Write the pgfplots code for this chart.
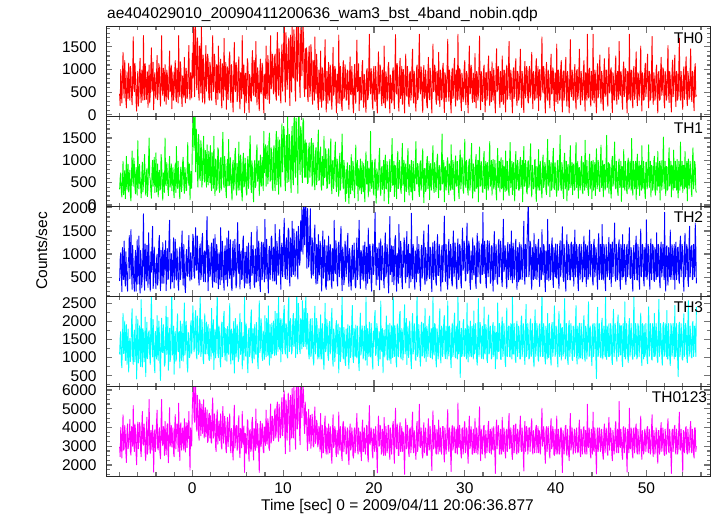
\documentclass[border=0pt]{standalone}
\usepackage{fontspec}
\setmainfont{Liberation Sans}
\usepackage{pgfplots}
\usepackage{pgfplotstable}
\pgfplotsset{compat=1.18}
\newcommand\lcfont{\fontsize{15.5bp}{18bp}\selectfont}
\definecolor{qred}{rgb}{1,0,0}
\definecolor{qgreen}{rgb}{0,1,0}
\definecolor{qblue}{rgb}{0,0,1}
\definecolor{qcyan}{rgb}{0,1,1}
\definecolor{qmag}{rgb}{1,0,1}

\pgfplotstableread{
t a b c d e
-8.000 460 350 420 1090 2970
-7.9375 200 610 900 1550 2440
-7.875 1000 720 1030 1720 4010
-7.8125 510 280 560 890 3350
-7.750 260 180 190 720 2370
-7.6875 880 530 1140 1490 3700
-7.625 1380 980 770 2220 4680
-7.5625 620 230 450 1110 2790
-7.500 370 470 1280 1340 2870
-7.4375 1200 770 620 2010 4120
-7.375 810 140 310 920 3640
-7.3125 320 640 1050 1410 2650
-7.250 150 1090 690 1910 2130
-7.1875 950 330 400 810 3840
-7.125 690 600 200 1180 4190
-7.0625 360 910 800 1790 2860
-7.000 1140 290 930 600 3130
-6.9375 550 530 1400 1280 3490
-6.875 320 780 470 1530 4430
-6.8125 1070 210 980 890 2720
-6.750 900 90 1530 1110 2520
-6.6875 430 700 620 1970 4050
-6.625 220 1210 240 2350 3530
-6.5625 820 600 1190 1030 3000
-6.500 1720 420 760 810 5170
-6.4375 600 1050 410 1600 3210
-6.375 510 890 200 1760 2720
-6.3125 1140 390 860 880 4190
-6.250 830 250 1080 1240 3850
-6.1875 290 840 200 2150 2580
-6.125 80 710 590 410 2010
-6.0625 680 220 1310 1350 3700
-6.000 960 1440 350 2050 4290
-5.9375 190 670 760 850 2860
-5.875 390 360 1390 1000 3280
-5.8125 880 910 450 1880 4260
-5.750 1250 610 160 1420 4050
-5.6875 480 400 1080 750 2790
-5.625 270 160 840 2600 2440
-5.5625 990 640 270 1310 3980
-5.500 740 960 520 740 4860
-5.4375 320 290 1050 1800 3140
-5.375 1750 460 1870 1650 3060
-5.3125 680 840 540 880 4190
-5.250 330 1130 220 1100 3730
-5.1875 1130 530 1220 2120 2650
-5.125 890 220 690 470 2230
-5.0625 340 710 420 1450 3770
-5.000 570 810 1190 1980 4550
-4.9375 950 190 730 970 2580
-4.875 160 400 280 1210 2920
-4.8125 790 990 1460 1690 4120
-4.750 1100 1500 870 1740 5500
-4.6875 260 640 450 1070 3000
-4.625 460 560 200 810 2610
-4.5625 1060 320 1050 1930 3840
-4.500 1480 150 610 2820 3560
-4.4375 510 750 1190 1340 2790
-4.375 680 1000 1600 1020 4130
-4.3125 1160 420 260 2050 3420
-4.250 110 640 420 1560 1620
-4.1875 750 1070 1150 820 3630
-4.125 930 280 800 580 3880
-4.0625 430 640 520 1720 2720
-4.000 360 1170 250 1340 3220
-3.9375 890 290 890 960 4260
-3.875 1310 490 1000 2160 4930
-3.8125 330 920 330 1230 2930
-3.750 540 180 520 920 2800
-3.6875 1130 610 1250 2010 3700
-3.625 1040 780 1400 1660 3990
-3.5625 460 330 620 860 2650
-3.500 190 370 210 370 2330
-3.4375 820 1130 1080 1520 4190
-3.375 1750 980 750 2090 5500
-3.3125 620 360 370 1160 3280
-3.250 430 110 1250 1140 3030
-3.1875 1030 720 730 1910 4050
-3.125 790 610 370 1510 3760
-3.0625 300 280 1080 760 2510
-3.000 1110 1500 680 830 4330
-2.9375 620 530 1290 1720 3350
-2.875 230 430 210 2420 2550
-2.8125 990 950 830 1090 3840
-2.750 880 720 1120 1310 4200
-2.6875 390 360 450 2110 2860
-2.625 340 210 480 650 2120
-2.5625 900 840 1390 1340 3770
-2.500 1410 1090 1730 1810 5060
-2.4375 510 400 680 890 3000
-2.375 580 540 250 1040 3250
-2.3125 1100 920 1010 2070 4120
-2.250 130 320 720 3020 2960
-2.1875 650 650 400 1070 3490
-2.125 950 840 910 1210 3980
-2.0625 320 350 1350 1870 2650
-2.000 500 160 270 540 2440
-1.9375 930 710 830 1490 3910
-1.875 1200 920 1320 1720 4690
-1.8125 390 280 540 900 2860
-1.750 290 1310 440 960 3590
-1.6875 1030 560 1120 1840 4190
-1.625 750 370 830 2210 4060
-1.5625 260 980 340 1170 2720
-1.500 1750 610 220 1160 5300
-1.4375 570 350 980 1720 3350
-1.375 400 140 1150 710 2240
-1.3125 1170 750 450 2010 4120
-1.250 990 850 580 1550 4250
-1.1875 460 300 1100 920 2790
-1.125 180 460 1500 1930 3150
-1.0625 860 950 650 1300 3980
-1.000 690 1070 330 900 3460
-0.9375 390 500 1210 1790 2790
-0.875 1270 260 760 2510 4470
-0.8125 600 840 310 1070 3420
-0.750 260 670 170 1250 2690
-0.6875 1030 320 970 2010 4260
-0.625 880 330 1100 1760 3840
-0.5625 360 810 540 820 2930
-0.500 510 1400 520 600 4230
-0.4375 1100 580 1070 1690 3420
-0.375 1530 440 1400 1510 4850
-0.3125 570 920 580 1000 3070
-0.250 330 120 420 1070 1720
-0.1875 930 600 1030 1870 3980
-0.125 760 750 820 2020 3690
-0.0625 370 370 450 1100 3000
0.000 1360 1290 890 1660 5000
0.0625 810 1880 1430 2430 5840
0.125 2120 2170 1330 1900 6680
0.1875 1100 1220 560 1160 4640
0.250 400 1760 480 1280 4280
0.3125 2060 2120 1140 2080 6560
0.375 1820 740 1570 2300 6200
0.4375 740 1700 650 1100 4160
0.500 550 1480 660 960 3800
0.5625 1700 690 1390 2150 5720
0.625 1440 400 980 1760 5120
0.6875 520 1580 510 1090 3680
0.750 320 1340 330 1160 3320
0.8125 1520 620 1120 2050 5480
0.875 1270 550 1220 2680 5240
0.9375 480 1440 450 1030 3560
1.000 2060 1270 560 1180 4640
1.0625 960 400 1280 2050 5240
1.125 280 620 1450 1720 3680
1.1875 1320 1160 540 950 4400
1.250 1140 1540 410 830 5480
1.3125 450 570 1040 1810 3440
1.375 240 510 1070 2210 3980
1.4375 1040 1220 400 1100 5060
1.500 1530 1000 790 1420 3500
1.5625 520 400 1330 1980 4160
1.625 790 1350 1810 1100 4940
1.6875 1340 620 650 1730 3200
1.750 1220 450 210 1910 3300
1.8125 400 1200 1190 970 4640
1.875 320 960 900 920 4760
1.9375 1160 500 510 1800 3440
2.000 1060 1330 580 1530 4630
2.0625 400 530 1120 960 3240
2.125 320 320 1240 2360 3170
2.1875 1240 1170 450 1270 4930
2.250 1750 850 280 1130 5580
2.3125 510 370 1330 2050 3430
2.375 620 1540 870 670 3590
2.4375 1340 670 400 1450 4730
2.500 1130 210 1420 1790 4310
2.5625 390 1030 760 990 2980
2.625 220 990 380 1240 2720
2.6875 1110 330 1210 2160 4470
2.750 930 500 1040 2740 4940
2.8125 340 1280 540 1140 3110
2.875 1520 1230 250 1000 3810
2.9375 600 440 1030 1870 4340
3.000 480 280 760 1620 3300
3.0625 1060 930 340 900 3950
3.125 1230 1060 1570 740 4730
3.1875 400 330 790 1740 3040
3.250 150 600 440 1980 2850
3.3125 1130 1280 1280 1020 4540
3.375 960 1630 970 1170 5120
3.4375 320 490 450 2080 3170
3.500 1690 390 220 2280 3500
3.5625 710 1090 1050 1160 4600
3.625 550 840 1180 930 4210
3.6875 1160 350 450 1800 2910
3.750 120 160 690 1460 2650
3.8125 760 860 1350 900 4080
3.875 1060 1020 310 1860 4540
3.9375 330 430 910 1240 2980
4.000 740 1470 1500 1090 3560
4.0625 1240 610 610 1930 4280
4.125 1390 430 470 2490 4730
4.1875 400 1060 1310 1070 2980
4.250 270 770 840 820 2650
4.3125 1110 370 310 1790 3950
4.375 890 110 210 1690 3790
4.4375 320 890 1110 930 2720
4.500 60 1000 1280 1340 2260
4.5625 930 330 510 2000 4210
4.625 1600 510 650 570 5190
4.6875 570 1120 1320 1370 2910
4.750 510 1270 960 2080 3240
4.8125 1160 390 270 1020 4020
4.875 1040 220 350 1210 4110
4.9375 290 930 1190 1910 2780
5.000 390 670 1680 1770 2980
5.0625 1030 330 680 890 4210
5.125 1280 1410 580 970 4630
5.1875 440 560 1210 1740 2850
5.250 130 330 250 2220 2390
5.3125 930 1120 970 1090 3950
5.375 820 920 1070 1280 3820
5.4375 360 280 450 1970 2910
5.500 1750 90 480 690 4860
5.5625 640 910 1280 1480 3240
5.625 460 1160 1390 1590 3110
5.6875 1100 400 540 930 4080
5.750 40 440 270 2670 1600
5.8125 780 1050 1040 1310 3690
5.875 920 750 840 1040 3630
5.9375 260 320 370 1930 2590
6.000 610 220 1170 1450 3040
6.0625 1240 920 630 850 4410
6.125 1130 1090 370 580 4340
6.1875 390 370 1240 1740 2780
6.250 50 580 870 1810 2200
6.3125 890 1210 400 1030 3820
6.375 790 1550 250 1160 3890
6.4375 320 530 1040 2050 2720
6.500 300 280 1470 2320 2850
6.5625 1110 990 540 1000 4280
6.625 1420 810 620 850 4540
6.6875 510 330 1190 1800 2910
6.750 430 70 960 1530 2260
6.8125 1200 810 340 960 3950
6.875 1020 1000 280 1910 3760
6.9375 400 390 1110 1170 2780
7.000 1620 440 800 1090 4990
7.0625 710 1120 400 1970 3300
7.125 220 1350 1600 1660 2910
7.1875 1040 530 730 920 4210
7.250 850 670 420 690 3560
7.3125 340 990 1280 1770 2650
7.375 90 210 1010 2570 1600
7.4375 920 810 340 1140 3890
7.500 1230 1120 190 1270 4340
7.5625 460 420 1080 2080 2980
7.625 540 430 1260 1860 3240
7.6875 1140 1070 450 1030 4210
7.750 1040 860 650 920 4080
7.8125 370 320 1250 1730 2720
7.875 40 1650 940 1480 2650
7.9375 850 720 400 950 4020
8.000 900 1020 1750 2160 4020
8.0625 360 1350 760 1250 3040
8.125 1520 420 470 1020 4930
8.1875 600 1000 1320 2080 3430
8.250 340 1330 860 1630 3110
8.3125 1310 470 510 1060 4470
8.375 1130 650 160 2430 4210
8.4375 430 1420 1080 1250 2910
8.500 250 1610 1170 790 2780
8.5625 1020 530 450 1910 4340
8.625 1750 570 690 1380 5250
8.6875 570 1280 1350 990 3170
8.750 650 1120 1390 1950 3560
8.8125 1340 390 580 1100 4600
8.875 1240 320 420 1130 4410
8.9375 460 1210 1150 2010 3300
9.000 520 1330 930 1560 3440
9.0625 1280 500 420 1060 4880
9.125 1340 320 1640 2280 5000
9.1875 450 1340 790 1310 3440
9.250 320 1650 350 1070 3800
9.3125 1400 450 1280 2220 5120
9.375 1820 960 1120 1760 5360
9.4375 620 1520 540 1170 3560
9.500 430 240 580 2820 3260
9.5625 1460 1100 1350 1380 5240
9.625 1160 1460 1530 1230 4640
9.6875 450 500 650 2080 3440
9.750 260 400 240 880 3620
9.8125 1220 1340 1140 1660 5120
9.875 1560 1820 1240 2070 5600
9.9375 520 740 510 1100 3560
10.000 1000 1110 770 1450 4040
10.0625 1580 1760 1420 2220 5600
10.125 2060 1660 1770 2440 5960
10.1875 720 620 580 1240 3680
10.250 280 320 470 1100 2600
10.3125 1820 1340 1210 1940 5480
10.375 1380 1560 1350 1880 5060
10.4375 560 500 450 1070 3320
10.500 840 2000 690 990 4400
10.5625 1520 860 1560 2360 5840
10.625 1700 520 1520 2680 5480
10.6875 620 1580 480 1170 3560
10.750 200 1380 310 1340 2720
10.8125 1760 740 1350 2080 5720
10.875 1280 280 1140 1720 4760
10.9375 500 1520 510 1100 3440
11.000 1940 1760 1710 1210 6080
11.0625 860 620 820 2010 4280
11.125 810 450 560 2220 3440
11.1875 1880 1820 1540 1310 6200
11.250 1520 2060 1190 1600 5240
11.3125 620 740 520 2080 3560
11.375 300 620 760 1000 2840
11.4375 1700 1940 1360 1730 5960
11.500 2120 1580 1490 2850 6560
11.5625 740 860 580 1100 3920
11.625 1100 260 460 1380 4400
11.6875 2060 1940 1600 2500 6440
11.750 1640 2130 1320 1970 5840
11.8125 690 980 760 1240 3680
11.875 380 680 880 1110 3080
11.9375 1820 1760 1720 2080 6320
12.000 2080 1620 1060 1800 6620
12.0625 860 800 1960 1240 4520
12.125 1200 500 1640 2570 5180
12.1875 2000 1940 1000 1520 6440
12.250 1700 1880 2260 1300 5720
12.3125 620 860 1600 2360 4160
12.375 400 620 1200 2010 3680
12.4375 1460 1460 2140 1310 5360
12.500 570 620 2412 2930 4190
12.5625 1480 1390 1210 1520 4840
12.625 1340 1180 690 1230 3540
12.6875 430 480 1980 2220 2760
12.750 290 510 1560 1760 4450
12.8125 1270 1250 720 1100 4970
12.875 1520 1390 900 960 3150
12.9375 400 620 1490 1870 4060
13.000 540 870 1980 2070 4650
13.0625 1550 1320 650 1030 2890
13.125 1300 1490 480 1160 3480
13.1875 460 420 1350 2080 4710
13.250 230 480 1220 1620 4320
13.3125 1200 1390 540 960 3020
13.375 1040 1110 750 790 2960
13.4375 320 540 1420 1910 4520
13.500 1720 340 1630 2420 5100
13.5625 640 1180 540 1100 3150
13.625 460 1290 350 1390 3350
13.6875 1340 450 1210 2080 4390
13.750 970 660 1010 1840 4190
13.8125 330 1250 370 960 2960
13.875 110 1680 1420 1020 3150
13.9375 990 550 680 1800 4060
14.000 780 570 550 1480 3840
14.0625 290 1120 1280 960 2720
14.125 1410 1300 1180 2180 4750
14.1875 510 420 540 1240 3280
14.250 160 330 200 960 2370
14.3125 1040 1090 1070 1940 4120
14.375 900 950 1500 1690 3630
14.4375 320 440 480 930 2650
14.500 460 1540 660 670 3070
14.5625 1130 610 1310 1730 4190
14.625 1660 640 1030 2500 4610
14.6875 510 1260 300 1160 2860
14.750 60 1070 240 1280 2580
14.8125 960 370 1180 2050 3980
14.875 650 390 860 1810 3490
14.9375 250 1060 420 1030 2580
15.000 1160 1260 1390 920 4190
15.0625 610 470 730 1870 3280
15.125 320 500 440 2000 2650
15.1875 1100 1140 1210 1100 4050
15.250 930 1480 1070 1320 3630
15.3125 290 420 350 2080 2440
15.375 120 250 260 2360 2090
15.4375 920 980 1120 1020 3840
15.500 1490 1000 870 760 4680
15.5625 430 370 420 1790 2930
15.625 530 610 1730 1650 3070
15.6875 1070 1140 680 890 4050
15.750 1000 1410 580 1160 3840
15.8125 370 530 1290 1880 2650
15.875 40 300 1050 2020 2440
15.9375 900 1030 450 1100 3840
16.000 820 910 310 1530 3560
16.0625 260 420 1150 1930 2580
16.125 1760 190 1260 580 4820
16.1875 600 980 510 1520 3140
16.250 250 1160 660 1830 2790
16.3125 1070 330 1310 890 4050
16.375 690 560 1600 1110 3350
16.4375 200 1090 550 2040 2510
16.500 90 1590 210 2680 2230
16.5625 960 580 1150 1240 4120
16.625 1200 360 960 960 4330
16.6875 360 1000 340 1830 2720
16.750 410 840 470 1590 3140
16.8125 1110 330 1280 900 4050
16.875 930 80 1140 780 3770
16.9375 320 790 510 1790 2580
17.000 340 260 730 1040 2650
17.0625 990 950 1240 1490 3980
17.125 960 770 1450 1910 3840
17.1875 330 300 450 900 2440
17.250 120 30 300 690 2020
17.3125 850 890 1120 1870 3700
17.375 1280 600 930 1650 4190
17.4375 460 250 400 1000 2790
17.500 440 1130 220 1240 2930
17.5625 1070 500 1040 2050 3980
17.625 760 330 1190 2440 3560
17.6875 230 980 450 1020 2510
17.750 40 810 540 860 2370
17.8125 820 330 1240 1800 3840
17.875 1110 160 860 1580 3980
17.9375 400 860 310 1030 2650
18.000 250 1340 270 1900 3210
18.0625 1020 470 1070 1070 4120
18.125 1650 430 1350 990 4750
18.1875 510 1000 450 1870 2860
18.250 600 90 630 1420 2580
18.3125 1130 810 1280 860 3980
18.375 90 700 1730 640 3420
18.4375 820 330 650 1660 2720
18.500 830 1030 260 2230 3770
18.5625 320 530 1080 1070 2650
18.625 340 250 1040 1210 2230
18.6875 1060 980 450 1880 3910
18.750 1200 570 720 1730 4400
18.8125 400 300 1180 960 2720
18.875 160 930 420 1090 2720
18.9375 890 330 1030 1870 3980
19.000 680 70 1260 1530 3350
19.0625 290 860 580 930 2580
19.125 50 1190 240 2670 3070
19.1875 960 470 1150 1240 4120
19.250 1020 470 830 790 4050
19.3125 330 980 370 1800 2510
19.375 390 180 1560 1380 2160
19.4375 1130 810 870 1030 4120
19.500 1780 750 470 1980 5170
19.5625 570 300 1210 1230 3070
19.625 460 1650 970 1020 3280
19.6875 1020 530 400 1940 3980
19.750 860 370 200 1600 3700
19.8125 290 1000 1010 930 2650
19.875 120 670 1220 680 2370
19.9375 950 280 560 1730 3910
20.000 1070 220 650 1300 3910
20.0625 360 920 1280 2080 2720
20.125 290 1030 1900 2300 2930
20.1875 1070 390 790 1060 4050
20.250 750 40 330 1130 3420
20.3125 260 810 1140 1940 2580
20.375 40 720 1100 1790 1580
20.4375 930 330 450 1030 3770
20.500 1390 430 720 780 4610
20.5625 460 1070 1240 1720 3000
20.625 540 1270 230 1530 3070
20.6875 1100 420 930 960 4120
20.750 930 210 1330 2560 3840
20.8125 320 810 440 1240 2580
20.875 200 860 700 1170 2650
20.9375 990 350 1180 1800 3910
21.000 600 540 930 580 3280
21.0625 260 1000 450 1520 2510
21.125 1520 90 270 1760 4540
21.1875 510 780 1100 1020 3140
21.250 150 1120 1460 1320 2510
21.3125 950 370 510 1720 4050
21.375 820 360 610 2150 3630
21.4375 300 980 1210 970 2650
21.500 370 810 1040 930 2860
21.5625 1060 330 400 1900 4120
21.625 1160 30 160 1450 4120
21.6875 400 840 1120 930 2720
21.750 40 1020 1810 1940 2300
21.8125 880 300 560 1100 3980
21.875 780 420 760 830 3490
21.9375 260 980 1180 1880 2580
22.000 330 1490 400 1620 3140
22.0625 960 440 1040 1000 4120
22.125 1040 500 1170 2750 4330
22.1875 370 980 340 1240 2720
22.250 130 190 560 1030 2090
22.3125 990 890 1320 1880 3980
22.375 1770 860 1400 1520 5030
22.4375 510 330 510 890 3000
22.500 460 140 200 740 2860
22.5625 1130 980 1010 1930 4190
22.625 850 1200 870 1840 3770
22.6875 260 370 370 1020 2510
22.750 80 460 1640 1240 2510
22.8125 950 1000 820 2150 3980
22.875 1250 750 490 2280 4260
22.9375 360 360 1280 1030 2720
23.000 570 260 1110 960 3210
23.0625 1070 930 450 1800 4050
23.125 230 1380 250 1700 2720
23.1875 880 440 1070 930 3770
23.250 1000 560 720 1160 3700
23.3125 330 1000 1350 1940 2580
23.375 40 70 1250 2460 1500
23.4375 850 790 510 1100 3630
23.500 1340 920 380 1390 4470
23.5625 460 300 1120 2080 2860
23.625 410 390 1490 810 3000
23.6875 1070 980 510 1590 4120
23.750 790 1270 680 1870 3630
23.8125 260 390 1210 1000 2650
23.875 180 220 270 1210 2440
23.9375 920 910 1010 2010 3910
24.000 960 680 960 1560 3980
24.0625 320 300 400 930 2650
24.125 470 1000 1880 690 3070
24.1875 1100 370 790 1800 4120
24.250 1450 110 470 2220 4820
24.3125 430 980 1210 1100 2930
24.375 260 780 1080 1270 2650
24.4375 960 330 450 1940 3840
24.500 650 320 240 1740 3350
24.5625 260 1000 1070 960 2720
24.625 80 1420 840 920 2300
24.6875 1020 470 400 1830 3980
24.750 1100 470 1380 2820 4330
24.8125 330 930 620 1030 2720
24.875 390 840 580 1160 3140
24.9375 1130 330 1210 1910 4050
25.000 1780 190 890 1510 5240
25.0625 570 920 400 1000 3000
25.125 460 990 210 760 2930
25.1875 1060 330 1070 1870 3980
25.250 900 420 1190 1980 3560
25.3125 300 1000 480 1040 2580
25.375 50 1260 660 1090 2370
25.4375 960 390 1290 1940 3910
25.500 1090 50 1500 1620 4260
25.5625 360 810 510 990 2650
25.625 410 820 340 2360 3140
25.6875 990 300 1140 1240 3980
25.750 740 360 980 890 3350
25.8125 230 980 420 1870 2510
25.875 150 1090 550 1730 2510
25.9375 920 370 1210 1030 3840
26.000 1270 580 1630 1250 4470
26.0625 400 980 540 2010 2790
26.125 330 120 470 2150 2860
26.1875 1030 810 1150 1030 4050
26.250 820 930 1100 1000 3490
26.3125 340 330 450 1800 2580
26.375 40 470 190 1580 1700
26.4375 920 1000 1070 960 3910
26.500 1560 1330 1250 2680 4890
26.5625 510 390 450 1170 2860
26.625 550 280 620 1070 3000
26.6875 1100 950 1280 1940 4120
26.750 990 780 940 1900 3770
26.8125 360 300 400 960 2650
26.875 230 400 330 740 2580
26.9375 960 1000 1110 1800 3910
27.000 690 1140 1420 1650 3630
27.0625 320 420 540 960 2580
27.125 1380 160 540 1160 4400
27.1875 570 890 1210 1940 3140
27.250 180 810 1010 2350 2720
27.3125 990 330 450 1030 3980
27.375 900 350 200 850 3280
27.4375 330 950 1040 1870 2580
27.500 370 1590 1190 1800 3420
27.5625 1030 470 400 1030 4050
27.625 1140 570 730 1280 4050
27.6875 400 1000 1280 2010 2720
27.750 50 70 1820 2160 2160
27.8125 930 810 790 1100 3980
27.875 850 860 410 970 3490
27.9375 290 330 1210 1870 2580
28.000 500 470 970 1440 3070
28.0625 1070 980 370 960 4120
28.125 1670 1060 240 2560 4960
28.1875 570 370 1150 1240 2930
28.250 300 230 1320 1040 2720
28.3125 990 920 480 1870 3980
28.375 810 670 610 1720 3630
28.4375 260 330 1210 990 2650
28.500 40 1350 1100 720 1650
28.5625 880 530 400 1730 3840
28.625 1030 350 310 1950 4120
28.6875 360 1000 1180 1030 2790
28.750 440 890 1500 1170 3000
28.8125 1060 300 510 1940 4050
28.875 1250 90 660 2230 3910
28.9375 400 950 1240 1030 2650
29.000 190 1100 980 990 2650
29.0625 990 420 400 1870 3910
29.125 880 430 250 1600 3560
29.1875 320 980 1140 960 2580
29.250 1780 720 1330 2780 5310
29.3125 600 330 450 1100 3000
29.375 340 140 510 1240 2930
29.4375 1020 1000 1210 2010 4120
29.500 970 1230 1150 450 3420
29.5625 320 360 400 1450 2650
29.625 90 530 270 1810 2370
29.6875 920 1060 1120 1030 3910
29.750 760 980 1560 1140 3980
29.8125 290 330 650 1940 2580
29.875 400 260 720 2050 2860
29.9375 1020 890 1280 1030 4050
30.000 1200 1470 1030 1060 4330
30.0625 370 470 420 1800 2650
30.125 220 390 440 1730 2790
30.1875 960 1000 1210 960 3980
30.250 890 740 1670 2510 3840
30.3125 320 350 580 1170 2650
30.375 40 220 660 880 2090
30.4375 900 950 1280 1870 3770
30.500 1520 1030 1180 1490 4610
30.5625 460 330 400 1030 2860
30.625 480 490 240 2010 3070
30.6875 1100 1000 1070 1170 4050
30.750 1000 1380 870 1020 3700
30.8125 360 420 450 1870 2580
30.875 270 150 1350 1620 2580
30.9375 920 920 700 960 3910
31.000 680 840 550 2290 3280
31.0625 290 330 1180 1100 2650
31.125 1350 300 1100 1140 4470
31.1875 510 980 400 1940 2930
31.250 150 1130 260 1560 2650
31.3125 960 370 1070 960 3980
31.375 880 580 1450 790 3560
31.4375 320 1000 510 1800 2580
31.500 430 70 760 2630 3000
31.5625 1070 810 1280 1030 4120
31.625 1740 1300 1000 1370 5100
31.6875 570 420 400 1970 3000
31.750 110 430 370 1800 2230
31.8125 960 980 1140 1030 3910
31.875 780 770 1220 970 3490
31.9375 290 300 560 1870 2580
32.000 370 280 1900 1600 3140
32.0625 990 1000 790 960 4050
32.125 1100 1200 580 2400 4120
32.1875 400 370 1280 1170 2720
32.250 60 570 1030 1100 2370
32.3125 930 980 400 1910 3840
32.375 930 120 270 1760 3420
32.4375 320 840 1140 960 2650
32.500 460 950 1290 860 3070
32.5625 1060 330 510 2010 4050
32.625 1300 390 690 2180 4330
32.6875 430 1000 1280 1100 2720
32.750 200 1420 1050 1210 2650
32.8125 960 420 370 1870 3910
32.875 820 510 420 1580 3630
32.9375 290 1000 1180 960 2580
33.000 1170 220 1180 1040 3980
33.0625 510 890 510 1870 3000
33.125 320 1020 200 1970 2790
33.1875 1020 360 1070 1030 4050
33.250 750 440 1490 1300 3350
33.3125 290 1000 450 1870 2580
33.375 40 770 610 690 1550
33.4375 960 300 1210 1660 3840
33.500 1460 110 960 1700 4400
33.5625 510 890 400 960 2860
33.625 570 1270 350 2510 3490
33.6875 1070 390 1210 1170 4120
33.750 930 580 1320 1180 3770
33.8125 320 980 510 1940 2580
33.875 160 290 800 1810 2580
33.9375 960 920 1280 960 3910
34.000 670 1060 1120 950 3280
34.0625 290 360 450 1870 2580
34.125 1300 470 300 2120 4540
34.1875 510 1000 1210 1030 2860
34.250 230 110 1750 1210 2720
34.3125 990 860 620 1940 3980
34.375 970 820 690 1600 3630
34.4375 320 300 1180 890 2650
34.500 60 1210 1030 750 2370
34.5625 930 420 450 1800 3840
34.625 1100 320 260 2370 3910
34.6875 340 980 1140 1030 2720
34.750 440 750 1250 1370 3140
34.8125 1070 330 450 1870 4120
34.875 1620 210 620 1870 4750
34.9375 510 980 1210 1030 2860
35.000 340 1400 940 1020 2930
35.0625 990 390 450 1940 3980
35.125 820 570 1500 1740 3560
35.1875 320 980 680 960 2580
35.250 40 230 380 2720 2300
35.3125 930 890 1240 1100 3840
35.375 1040 950 1070 1100 4120
35.4375 360 330 450 1940 2650
35.500 500 90 590 1530 3140
35.5625 1070 980 1210 960 4120
35.625 1240 1200 1320 860 4190
35.6875 400 360 540 1870 2650
35.750 200 470 240 2010 2580
35.8125 960 1000 1140 1030 3910
35.875 890 840 870 1280 3700
35.9375 320 330 400 1870 2650
36.000 430 330 1250 1660 3210
36.0625 990 950 450 960 4050
36.125 1450 1070 480 960 4610
36.1875 510 370 1210 1940 2860
36.250 160 640 1100 2150 2720
36.3125 960 1000 450 1030 3980
36.375 810 70 630 1200 3420
36.4375 320 840 1180 1940 2650
36.500 50 1310 1710 1770 1680
36.5625 930 420 510 1030 3840
36.625 1180 430 350 810 4330
36.6875 370 1000 1210 1870 2720
36.750 550 840 1000 2470 3280
36.8125 1070 300 510 1030 4050
36.875 950 250 1380 1250 3770
36.9375 320 950 1700 1940 2580
37.000 260 990 2454 1600 3000
37.0625 960 390 510 960 3980
37.125 1070 500 690 990 3980
37.1875 370 1000 1280 1940 2720
37.250 460 1370 1210 2070 3350
37.3125 1020 420 450 1030 4050
37.375 1380 180 240 1110 4470
37.4375 460 890 1140 1940 2790
37.500 130 700 910 1560 2580
37.5625 960 360 450 960 3840
37.625 830 390 1450 740 3490
37.6875 320 1000 540 1870 2650
37.750 370 1020 470 2320 3070
37.8125 990 360 1210 1030 3980
37.875 1240 80 1110 1310 4120
37.9375 370 860 450 1940 2650
38.000 600 780 660 1760 3210
38.0625 1070 330 1210 960 4050
38.125 90 1240 1320 900 2650
38.1875 880 440 510 1870 3840
38.250 1000 330 300 1930 3700
38.3125 320 980 1140 1030 2580
38.375 400 700 1000 1170 3070
38.4375 960 330 450 1940 3980
38.500 1720 160 1530 2890 5030
38.5625 570 950 650 1030 3000
38.625 480 1120 550 1040 3280
38.6875 1070 390 1210 1940 4050
38.750 890 490 1140 1660 3560
38.8125 340 950 450 1030 2650
38.875 40 860 190 820 2090
38.9375 900 330 1070 1870 3840
39.000 1160 230 980 1530 4050
39.0625 400 950 450 960 2720
39.125 320 1470 1750 2220 3140
39.1875 990 420 790 1030 4050
39.250 830 580 420 1000 3420
39.3125 320 1000 1210 1940 2580
39.375 150 180 1100 1650 2370
39.4375 960 810 450 1030 3910
39.500 1340 950 620 790 4470
39.5625 460 330 1210 1870 2860
39.625 480 420 1350 1970 3000
39.6875 1040 1000 510 1030 4050
39.750 960 1270 280 1250 3770
39.8125 330 390 1140 1940 2580
39.875 80 350 910 2430 2510
39.9375 930 950 510 1030 3910
40.000 720 740 1220 1110 3280
40.0625 290 330 510 1870 2580
40.125 1560 190 480 1720 4610
40.1875 510 980 1210 1030 2860
40.250 250 1000 970 740 2580
40.3125 990 330 450 1870 3910
40.375 890 470 250 2280 3420
40.4375 320 1000 1140 1030 2580
40.500 370 1560 1290 1370 2930
40.5625 1020 420 510 1940 3980
40.625 1200 320 760 930 3980
40.6875 370 950 1210 1800 2580
40.750 60 820 1590 1830 1600
40.8125 930 330 540 1030 3840
40.875 970 140 410 1160 3490
40.9375 320 980 1210 1940 2580
41.000 500 1160 970 2630 3140
41.0625 1020 360 450 960 4050
41.125 1270 440 200 1030 4120
41.1875 430 980 1140 1940 2650
41.250 190 90 1420 1560 2510
41.3125 960 810 450 960 3910
41.375 790 910 630 810 3280
41.4375 320 330 1210 1870 2580
41.500 40 400 1070 2020 2230
41.5625 930 980 450 1030 3840
41.625 1660 1330 440 1270 4750
41.6875 510 390 1210 1940 2790
41.750 400 560 1260 1660 3000
41.8125 990 950 510 960 3980
41.875 880 230 750 920 3490
41.9375 320 860 1210 1870 2580
42.000 320 920 310 1830 2860
42.0625 960 330 1070 1030 3910
42.125 1110 360 1520 1140 3840
42.1875 370 980 510 1940 2650
42.250 120 1400 690 2440 3000
42.3125 960 390 1210 1030 3980
42.375 1000 580 1080 820 3350
42.4375 340 980 450 1870 2650
42.500 480 150 210 1510 2720
42.5625 990 810 1140 960 3980
42.625 1450 840 1210 1950 4400
42.6875 430 330 450 1030 2720
42.750 220 430 680 990 2440
42.8125 960 980 1210 1940 3910
42.875 780 1090 1030 1620 3630
42.9375 320 330 400 960 2580
43.000 440 250 470 1160 3070
43.0625 990 950 1140 1940 3980
43.125 1200 750 1390 2160 4050
43.1875 400 330 510 1030 2720
43.250 80 1450 840 900 2580
43.3125 930 530 1210 1870 3840
43.375 850 390 300 1770 3210
43.4375 320 1000 1070 960 2580
43.500 1780 670 1180 1210 5240
43.5625 570 330 450 1940 3070
43.625 370 210 550 2540 2930
43.6875 990 950 1210 1030 3980
43.750 1030 1140 1520 1060 3700
43.8125 340 360 510 1870 2650
43.875 190 500 770 1580 2370
43.9375 960 980 1210 1030 3910
44.000 710 140 1110 780 3210
44.0625 320 860 450 1870 2580
44.125 1780 1000 330 1940 4820
44.1875 510 330 1210 1030 2860
44.250 260 560 1320 1310 2720
44.3125 990 950 510 1940 3980
44.375 900 210 680 1730 3350
44.4375 320 860 1140 960 2580
44.500 40 1260 980 420 1520
44.5625 930 360 450 1800 3840
44.625 1130 460 240 2390 3980
44.6875 370 1000 1210 1030 2720
44.750 500 810 1450 1180 3070
44.8125 990 330 450 1940 3980
44.875 1320 300 620 1600 3840
44.9375 460 980 1210 1030 2720
45.000 250 1340 930 990 2860
45.0625 960 390 450 1940 3910
45.125 860 500 1640 2090 3490
45.1875 320 1000 650 960 2580
45.250 90 180 440 1160 2300
45.3125 930 890 1210 1870 3840
45.375 1240 910 1120 1580 4190
45.4375 400 330 450 1030 2650
45.500 460 390 210 2840 3070
45.5625 990 980 1210 1030 3980
45.625 970 1560 1030 950 3770
45.6875 340 390 510 1870 2650
45.750 190 570 660 1480 2510
45.8125 960 950 1140 1030 3910
45.875 1490 260 1360 1940 4540
45.9375 480 920 450 1030 2790
46.000 540 840 750 1070 3280
46.0625 990 330 1210 1940 3980
46.125 1040 150 300 1720 3560
46.1875 340 980 1070 960 2580
46.250 50 1090 1260 810 2230
46.3125 930 420 510 1870 3840
46.375 810 510 860 2330 3420
46.4375 320 1000 1210 1030 2580
46.500 340 1410 1670 1270 3000
46.5625 990 420 510 1940 3980
46.625 1300 360 410 1670 4330
46.6875 430 980 1210 1030 2720
46.750 230 720 1070 900 2650
46.8125 960 330 450 1870 3910
46.875 930 210 610 2180 3630
46.9375 340 950 1210 1030 2650
47.000 1620 1030 1310 1410 5390
47.0625 570 390 510 1940 3140
47.125 430 440 240 1070 2930
47.1875 960 980 1210 1870 3910
47.250 850 80 930 1880 3350
47.3125 320 860 450 960 2580
47.375 120 850 1420 750 2300
47.4375 990 390 510 1940 3980
47.500 1170 1240 540 1630 4050
47.5625 400 420 1210 1030 2650
47.625 580 330 1080 2540 3210
47.6875 1020 980 450 960 3980
47.750 960 700 340 1160 3630
47.8125 340 330 1140 1940 2580
47.875 40 250 1210 1530 1620
47.9375 960 950 510 1030 3910
48.000 790 1050 770 860 3350
48.0625 340 360 1210 1870 2650
48.125 1780 420 1570 2080 5030
48.1875 570 980 510 1030 2930
48.250 320 720 470 1240 2860
48.3125 990 330 1140 1940 3980
48.375 970 1490 1000 1620 3770
48.4375 340 440 450 1030 2650
48.500 150 220 200 950 2370
48.5625 960 980 1070 1800 3910
48.625 1070 890 1190 2710 3980
48.6875 340 360 450 1030 2650
48.750 460 440 690 1110 3000
48.8125 1020 980 1210 1940 3980
48.875 1390 120 1390 1730 4190
48.9375 430 860 450 960 2720
49.000 200 1140 440 1020 2580
49.0625 930 360 1210 1940 3910
49.125 880 530 1010 1840 3420
49.1875 320 980 450 1030 2580
49.250 500 210 240 1280 2930
49.3125 960 860 1140 1870 3910
49.375 1520 890 1540 2230 4610
49.4375 460 330 510 1030 2720
49.500 80 1330 760 780 2300
49.5625 930 420 1210 1940 3840
49.625 820 360 1120 1510 3280
49.6875 320 980 450 960 2580
49.750 340 670 310 1910 2790
49.8125 960 330 1140 1030 3910
49.875 1140 140 970 1110 3700
49.9375 400 950 510 1940 2720
50.000 610 960 1740 1450 3210
50.0625 1020 360 450 960 3980
50.125 1340 430 620 830 4050
50.1875 430 980 1210 1870 2720
50.250 150 1350 1070 2400 2650
50.3125 960 390 510 1030 3910
50.375 900 610 240 1340 3350
50.4375 320 980 1140 1940 2580
50.500 400 180 1330 1740 2860
50.5625 990 890 450 960 3980
50.625 1730 860 720 930 4680
50.6875 510 330 1210 1940 2860
50.750 230 420 1150 1580 2440
50.8125 930 980 450 1030 3840
50.875 780 1090 410 2220 3490
50.9375 320 330 1140 1030 2580
51.000 460 220 930 1130 3000
51.0625 990 950 450 1940 3980
51.125 1100 750 1460 1690 3700
51.1875 340 330 510 960 2580
51.250 40 1200 520 860 2090
51.3125 930 420 1210 1870 3840
51.375 960 430 1110 2610 3840
51.4375 320 980 450 1030 2580
51.500 340 110 270 1250 2790
51.5625 960 860 1140 1940 3910
51.625 1270 990 1260 1580 4260
51.6875 430 330 510 1030 2720
51.750 550 510 690 790 3070
51.8125 1040 950 1210 1870 3980
51.875 990 1520 960 1970 3560
51.9375 320 360 450 1030 2580
52.000 150 610 1900 1090 2510
52.0625 960 980 510 1940 3910
52.125 850 210 200 1720 3420
52.1875 320 860 1140 1030 2580
52.250 400 860 1180 2300 3070
52.3125 990 330 510 960 3980
52.375 1530 370 330 970 4470
52.4375 460 980 1140 1940 2720
52.500 270 1280 870 1520 2650
52.5625 960 420 510 1030 3910
52.625 810 580 1520 780 3280
52.6875 320 980 450 1940 2580
52.750 60 180 580 1860 1550
52.8125 930 890 1210 1030 3840
52.875 1210 840 1080 1210 3910
52.9375 400 330 450 1940 2720
53.000 570 1230 750 1650 3210
53.0625 990 390 1210 960 3980
53.125 1320 390 240 2440 4120
53.1875 430 980 1070 1030 2720
53.250 180 710 1260 1040 2580
53.3125 960 330 450 1940 3910
53.375 890 1020 630 1450 3490
53.4375 320 360 1140 960 2580
53.500 440 160 1150 470 2930
53.5625 990 980 450 1870 3980
53.625 1690 820 370 1980 4820
53.6875 510 330 1210 1030 2860
53.750 320 1410 1390 1240 2790
53.8125 960 420 510 1940 3910
53.875 760 490 830 1690 3420
53.9375 320 980 1210 960 2580
54.000 120 280 1010 930 1600
54.0625 930 890 450 1870 3840
54.125 1060 880 200 2210 3770
54.1875 340 360 1140 1030 2650
54.250 550 1200 1450 1340 3140
54.3125 1020 420 510 1940 3980
54.375 1280 390 700 1800 4050
54.4375 400 980 1210 1030 2720
54.500 200 90 1110 860 2580
54.5625 960 920 450 1940 3910
54.625 830 1030 300 2570 3350
54.6875 340 360 1210 1030 2650
54.750 400 500 1600 1160 2930
54.8125 990 980 510 1870 3980
54.875 1460 770 800 1600 4330
54.9375 430 330 1140 1030 2720
55.000 290 190 1190 990 2650
55.0625 960 950 450 1940 3910
55.125 930 1280 470 2000 3490
55.1875 320 360 1210 1030 2580
55.250 90 530 980 1240 2370
55.3125 990 980 510 1870 3980
55.375 1130 880 1670 1560 3980
55.4375 400 330 1140 1030 2720
55.500 440 280 370 2400 3000
}\lc

\pgfplotsset{
  panel/.style={
    scale only axis, width=604bp, height=89.8bp, anchor=south west,
    xmin=-9.5, xmax=57,
    xtick={0,10,20,30,40,50},
    minor xtick={-8,-6,...,56},
    tick align=inside,
    xtick pos=both, ytick pos=both,
    yticklabel pos=left,
    major tick length=6bp, minor tick length=3.5bp,
    tick style={black!55, line width=1.2bp},
    axis line style={black!85, line width=1bp},
    tick label style={font=\lcfont, text=black},
    yticklabel style={anchor=east, inner sep=0pt, xshift=-9.3bp},
    /pgf/number format/assume math mode=true,
    /pgf/number format/1000 sep={},
    scaled ticks=false,
    axis on top=true,
    every axis plot/.append style={line width=0.9bp, line join=round, mark=none},
  },
  nolab/.style={xticklabels={}},
}

\begin{document}
\begin{tikzpicture}[font=\lcfont]
\path[use as bounding box] (0,0) rectangle (717bp,516bp);

\begin{axis}[panel, nolab, at={(106bp,399.2bp)},
  ymin=-45, ymax=1940, ytick={0,500,1000,1500}, minor ytick={0,100,...,1900}]
  \addplot[qred] table[x=t,y=a]{\lc};
  \node[anchor=base east, inner sep=0pt] at (rel axis cs:0.9889,0.8185) {TH0};
\end{axis}

\begin{axis}[panel, nolab, at={(106bp,309.4bp)},
  ymin=-36, ymax=1975, ytick={0,500,1000,1500}, minor ytick={0,100,...,1900}]
  \addplot[qgreen] table[x=t,y=b]{\lc};
  \node[anchor=base east, inner sep=0pt] at (rel axis cs:0.9889,0.8185) {TH1};
\end{axis}

\begin{axis}[panel, nolab, at={(106bp,219.6bp)},
  ymin=88, ymax=2024, ytick={500,1000,1500,2000}, minor ytick={100,200,...,2000}]
  \addplot[qblue] table[x=t,y=c]{\lc};
  \node[anchor=base east, inner sep=0pt] at (rel axis cs:0.9889,0.8185) {TH2};
\end{axis}

\begin{axis}[panel, nolab, at={(106bp,129.8bp)},
  ymin=210, ymax=2690, ytick={500,1000,1500,2000,2500}, minor ytick={250,500,...,2500}]
  \addplot[qcyan] table[x=t,y=d]{\lc};
  \node[anchor=base east, inner sep=0pt] at (rel axis cs:0.9889,0.8185) {TH3};
\end{axis}

\begin{axis}[panel, at={(106bp,40bp)},
  ymin=1413, ymax=6203, ytick={2000,3000,4000,5000,6000}, minor ytick={1500,1750,...,6000},
  xticklabel pos=lower,
  xticklabel style={anchor=base, inner sep=0pt, yshift=-17.3bp}]
  \addplot[qmag] table[x=t,y=e]{\lc};
  \node[anchor=base east, inner sep=0pt] at (rel axis cs:0.9955,0.8185) {TH0123};
\end{axis}

\node[anchor=base west, inner sep=0pt] at (107bp,497bp) {ae404029010\_20090411200636\_wam3\_bst\_4band\_nobin.qdp};
\node[rotate=90, anchor=base, inner sep=0pt] at (47bp,265bp) {Counts/sec};
\node[anchor=base, inner sep=0pt] at (397.5bp,5.5bp) {Time [sec] 0 = 2009/04/11 20:06:36.877};
\end{tikzpicture}
\end{document}
